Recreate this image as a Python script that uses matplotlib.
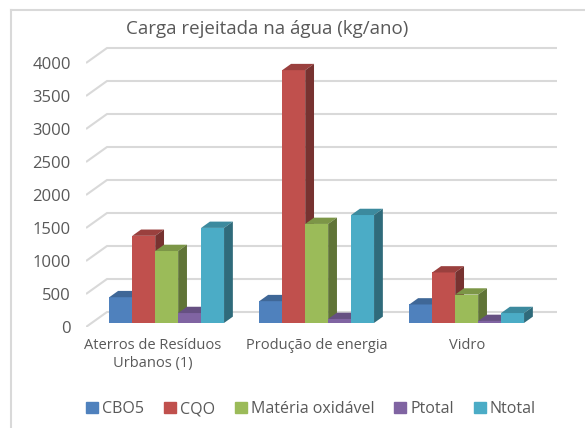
import matplotlib
matplotlib.use("Agg")
import matplotlib.pyplot as plt
from matplotlib.patches import Polygon, Patch
from matplotlib.lines import Line2D
import matplotlib.transforms as mtrans
import numpy as np

categories = ["Aterros de Resíduos\nUrbanos (1)", "Produção de energia", "Vidro"]
series = ["CBO5", "CQO", "Matéria oxidável", "Ptotal", "Ntotal"]
cbo5 = [390, 330, 280]
cqo = [1320, 3830, 765]
materia = [1090, 1500, 430]
ptotal = [150, 60, 30]
ntotal = [1440, 1635, 150]
yticks = [0, 500, 1000, 1500, 2000, 2500, 3000, 3500, 4000]

colors = ["#4F81BD", "#C0504D", "#9BBB59", "#8064A2", "#4BACC6"]
grey = "#595959"
gridc = "#D9D9D9"

plt.rcParams["font.family"] = ["Open Sans", "DejaVu Sans"]

W, H = 585, 428
fig = plt.figure(figsize=(W / 100, H / 100), dpi=100)

# plotting area in pixels (front-left corner of floor at x=86, y=327)
px_left, px_right, px_bot, px_top = 86, 557, 327, 40
cat_px = 150.0
val_px = 264.0 / 4000
ax = fig.add_axes([px_left / W, (H - px_bot) / H,
                   (px_right - px_left) / W, (px_bot - px_top) / H])
xmax = (px_right - px_left) / cat_px
ymax = (px_bot - px_top) / val_px
ax.set_xlim(0, xmax)
ax.set_ylim(0, ymax)
for s in ax.spines.values():
    s.set_visible(False)

# depth of the wall
dx = 21 / cat_px
dy = 15 / val_px

# back wall gridlines and left wall diagonals
for v in yticks:
    ax.plot([0, dx, xmax], [v, v + dy, v + dy], color=gridc, lw=1.5,
            zorder=1, solid_capstyle="butt")

# bars
f_front = 0.27
f_depth = 0.42
bw = 0.153
ox = f_front * dx
oy = f_front * dy
bdx = f_depth * dx
bdy = f_depth * dy
data = [cbo5, cqo, materia, ptotal, ntotal]


def shade(c, k):
    rgb = np.array(matplotlib.colors.to_rgb(c))
    return tuple(rgb * k)


z = 2
centers = []
for g in range(len(categories)):
    x0 = g + 0.5 - 2.5 * bw + ox
    centers.append(g + 0.5 + ox)
    for i, vals in enumerate(data):
        v = vals[g]
        xl = x0 + i * bw
        xr = xl + bw
        ax.bar(xl, v, bw, bottom=oy, align="edge", color=colors[i],
               lw=0, zorder=z)
        top = [(xl, oy + v), (xl + bdx, oy + v + bdy),
               (xr + bdx, oy + v + bdy), (xr, oy + v)]
        side = [(xr, oy), (xr + bdx, oy + bdy),
                (xr + bdx, oy + v + bdy), (xr, oy + v)]
        ax.add_patch(Polygon(top, closed=True, color=shade(colors[i], 0.8),
                             lw=0, zorder=z))
        ax.add_patch(Polygon(side, closed=True, color=shade(colors[i], 0.62),
                             lw=0, zorder=z))
        z += 1

ax.set_yticks(yticks)
ax.set_yticklabels([str(t) for t in yticks])
ax.set_xticks([])
ax.tick_params(axis="y", length=0, pad=11, labelsize=12, labelcolor=grey)

# category labels (the wrapped first one sits a bit to the left, like Excel)
nudges = [-14, 0, 0]
for c, lab, nd in zip(centers, categories, nudges):
    tr = ax.get_xaxis_transform() + mtrans.ScaledTranslation(nd / 100, 0, fig.dpi_scale_trans)
    ax.text(c, -0.04, lab, transform=tr, ha="center", va="top",
            fontsize=10.5, color=grey, linespacing=1.25)

fig.text(267 / W, 1 - 29 / H, "Carga rejeitada na água (kg/ano)",
         ha="center", va="center", fontsize=13.5, color=grey)

handles = [Patch(color=c, label=s) for c, s in zip(colors, series)]
fig.legend(handles=handles, loc="center", bbox_to_anchor=(311 / W, 1 - 409 / H),
           ncol=5, frameon=False, fontsize=11.5, labelcolor=grey,
           handlelength=0.75, handleheight=0.75, handletextpad=0.25,
           columnspacing=1.25)

# outer chart border (cut at the right and bottom)
fig.add_artist(Line2D([11 / W, 1], [1 - 10 / H, 1 - 10 / H], color=gridc,
                      lw=1.5, transform=fig.transFigure))
fig.add_artist(Line2D([11 / W, 11 / W], [0, 1 - 10 / H], color=gridc,
                      lw=1.5, transform=fig.transFigure))

fig.savefig("out.png", dpi=100)
